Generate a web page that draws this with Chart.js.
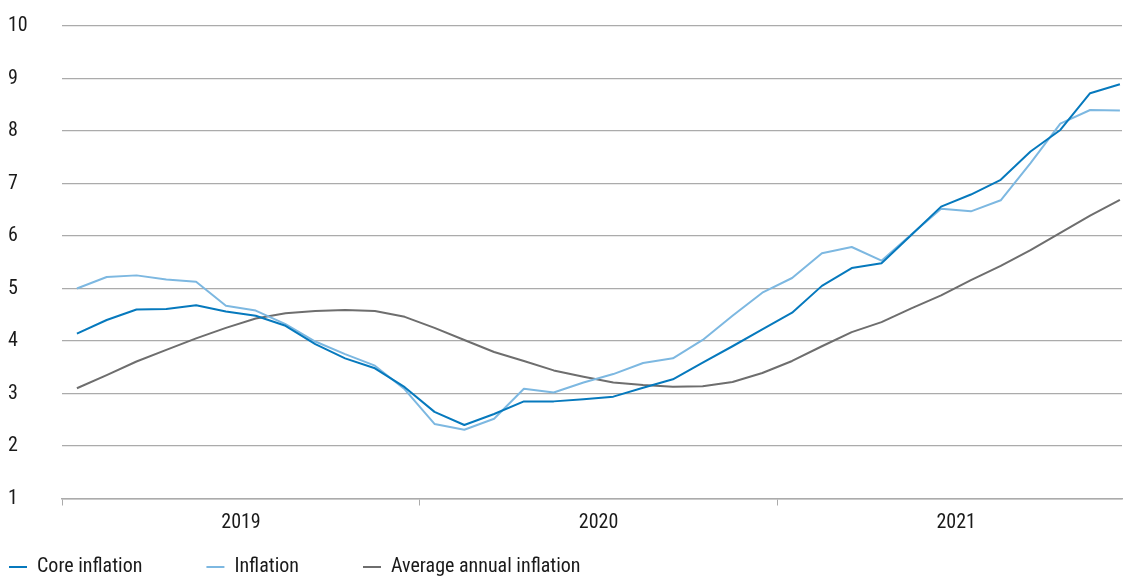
<!DOCTYPE html>
<html>
<head>
<meta charset="utf-8">
<script src="https://cdn.jsdelivr.net/npm/chart.js@4.4.1/dist/chart.umd.min.js"></script>
<style>
html,body{margin:0;padding:0;background:#fff;overflow:hidden}
#wrap{width:1123px;height:576px;position:relative}
</style>
</head>
<body>
<div id="wrap"><canvas id="c"></canvas></div>
<script>
const months = ['Jan 2019','Feb 2019','Mar 2019','Apr 2019','May 2019','Jun 2019','Jul 2019','Aug 2019','Sep 2019','Oct 2019','Nov 2019','Dec 2019',
  'Jan 2020','Feb 2020','Mar 2020','Apr 2020','May 2020','Jun 2020','Jul 2020','Aug 2020','Sep 2020','Oct 2020','Nov 2020','Dec 2020',
  'Jan 2021','Feb 2021','Mar 2021','Apr 2021','May 2021','Jun 2021','Jul 2021','Aug 2021','Sep 2021','Oct 2021','Nov 2021','Dec 2021'];
const years = ['2019','2020','2021'];
const coreInflation = [4.14,4.40,4.60,4.61,4.68,4.56,4.48,4.29,3.94,3.67,3.48,3.12,2.65,2.40,2.61,2.85,2.85,2.89,2.94,3.11,3.27,3.59,3.90,4.22,4.54,5.05,5.39,5.48,6.02,6.56,6.79,7.07,7.61,8.02,8.72,8.89];
const inflation = [5.00,5.22,5.25,5.17,5.13,4.67,4.58,4.32,3.99,3.75,3.53,3.08,2.42,2.31,2.52,3.09,3.02,3.21,3.37,3.58,3.67,4.02,4.48,4.92,5.20,5.67,5.79,5.53,6.03,6.52,6.47,6.68,7.39,8.14,8.40,8.39];
const averageAnnualInflation = [3.10,3.35,3.61,3.83,4.05,4.25,4.43,4.53,4.57,4.59,4.57,4.46,4.25,4.02,3.79,3.62,3.44,3.32,3.21,3.16,3.13,3.14,3.22,3.39,3.62,3.90,4.17,4.36,4.62,4.87,5.16,5.43,5.73,6.06,6.39,6.69];
const yMin = 1, yMax = 10;

const FONT = "'Roboto Condensed', Roboto, sans-serif";
const toPts = arr => arr.map((v, i) => ({x: i, y: v, label: months[i]}));
const gridColor = '#ababab';

const legendShift = {
  id: 'legendShift',
  afterLayout(chart) {
    const lg = chart.legend;
    if (!lg) return;
    const p = lg.options.labels.padding;
    const dx = 9 - (lg.left + p);
    lg.left += dx;
    lg.top = 557 - p;
    lg.bottom = chart.height;
  }
};

new Chart(document.getElementById('c'), {
  type: 'line',
  data: {
    datasets: [
      {label: 'Core inflation', data: toPts(coreInflation), borderColor: '#0679bd', backgroundColor: '#0679bd', borderWidth: 2},
      {label: 'Inflation', data: toPts(inflation), borderColor: '#7db8e1', backgroundColor: '#7db8e1', borderWidth: 2},
      {label: 'Average annual inflation', data: toPts(averageAnnualInflation), borderColor: '#6e6e6e', backgroundColor: '#6e6e6e', borderWidth: 2}
    ]
  },
  options: {
    responsive: true,
    maintainAspectRatio: false,
    animation: false,
    devicePixelRatio: 1,
    layout: {padding: {left: 8, right: 1, top: 26, bottom: 2.5}},
    elements: {point: {radius: 0, hoverRadius: 0}, line: {tension: 0, borderJoinStyle: 'round'}},
    scales: {
      x: {
        type: 'linear',
        min: -0.5,
        max: 35.07,
        offset: false,
        afterBuildTicks: s => { s.ticks = years.map((y, i) => ({value: i * 12 - 0.5})); },
        ticks: {
          autoSkip: false,
          maxRotation: 0,
          labelOffset: 179,
          padding: 5,
          color: '#1a1a1a',
          font: {family: FONT, size: 20},
          callback: v => years[Math.round((v + 0.5) / 12)]
        },
        grid: {drawOnChartArea: false, drawTicks: true, tickLength: 7, color: gridColor, lineWidth: 1},
        border: {display: true, color: gridColor, width: 1.5}
      },
      y: {
        min: yMin,
        max: yMax,
        afterFit: s => { s.width = 54; },
        ticks: {stepSize: 1, crossAlign: 'far', padding: 0, color: '#1a1a1a', font: {family: FONT, size: 20}},
        grid: {color: gridColor, lineWidth: 1.3, drawTicks: false, tickLength: 0},
        border: {display: false}
      }
    },
    plugins: {
      tooltip: {enabled: false},
      legend: {
        position: 'bottom',
        align: 'start',
        maxHeight: 34,
        labels: {
          boxWidth: 18,
          boxHeight: 2,
          padding: 64,
          color: '#1a1a1a',
          font: {family: FONT, size: 20},
          generateLabels: chart => Chart.defaults.plugins.legend.labels.generateLabels(chart).map(l => Object.assign(l, {lineWidth: 0}))
        }
      }
    }
  },
  plugins: [legendShift]
});
</script>
</body>
</html>
